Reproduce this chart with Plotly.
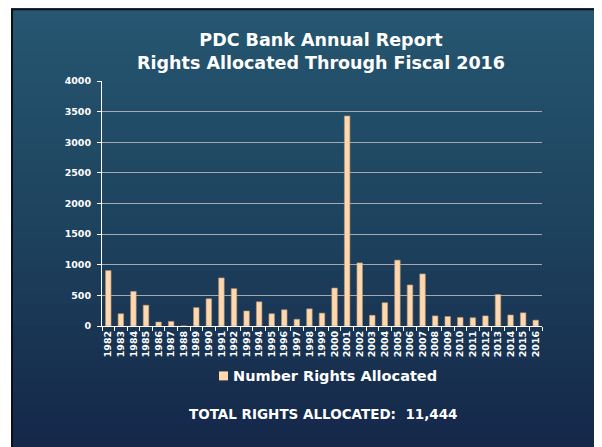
import plotly.graph_objects as go

years = [str(y) for y in range(1982, 2017)]
rights = [905, 200, 565, 340, 65, 75, 0, 300, 445, 785, 610, 245, 395, 200, 265,
          110, 280, 210, 620, 3430, 1030, 175, 380, 1075, 670, 850, 165, 155, 140,
          135, 165, 515, 180, 215, 95]
y_ticks = [0, 500, 1000, 1500, 2000, 2500, 3000, 3500, 4000]
title_lines = ["PDC Bank Annual Report", "Rights Allocated Through Fiscal 2016"]
series_name = "Number Rights Allocated"
total_text = "TOTAL RIGHTS ALLOCATED:  11,444"

# page offset (browser body margin)
OFF = 8
W, H = 602 - OFF, 447 - OFF
# plot area in page pixels
PX0, PX1, PY0, PY1 = 102, 542, 81, 326.5
L = PX0 - OFF
R = W - (PX1 - OFF)
T = PY0 - OFF
B = H - (PY1 - OFF)
PW, PH = W - L - R, H - T - B


def px(x):
    return (x - OFF - L) / PW


def py(y):
    return (H - B - (y - OFF)) / PH


FONT = "DejaVu Sans"
BAR = "#FFD8AE"

fig = go.Figure()
fig.add_trace(go.Bar(
    x=years, y=rights, name=series_name, showlegend=False,
    marker=dict(color=BAR, line=dict(color="#b89270", width=0.6)),
))

shapes = []
top_c = (0x26, 0x56, 0x72)
mid_c = (0x1e, 0x43, 0x5e)
bot_c = (0x15, 0x28, 0x4a)
n = 40
y0s, y1s = 8, 447
for i in range(n):
    t = i / (n - 1)
    if t < 0.5:
        a, b_, tt = top_c, mid_c, t / 0.5
    else:
        a, b_, tt = mid_c, bot_c, (t - 0.5) / 0.5
    c = tuple(int(a[k] + (b_[k] - a[k]) * tt) for k in range(3))
    ya = y0s + (y1s - y0s) * i / n
    yb = y0s + (y1s - y0s) * (i + 1) / n + 1
    shapes.append(dict(type="rect", xref="paper", yref="paper", layer="below",
                       x0=px(11), x1=px(603), y0=py(ya), y1=py(yb),
                       fillcolor="rgb(%d,%d,%d)" % c, line=dict(width=0)))
shapes.append(dict(type="rect", xref="paper", yref="paper", layer="below",
                   x0=px(12), x1=px(600), y0=py(9), y1=py(449),
                   fillcolor="rgba(0,0,0,0)", line=dict(color="#0a0f18", width=2)))
# legend swatch
shapes.append(dict(type="rect", xref="paper", yref="paper", layer="above",
                   x0=px(219), x1=px(228), y0=py(381), y1=py(372),
                   fillcolor=BAR, line=dict(width=0)))

fig.update_layout(
    width=W, height=H,
    margin=dict(l=L, r=R, t=T, b=B),
    paper_bgcolor="white",
    plot_bgcolor="#010e27",
    shapes=shapes,
    bargap=0.56,
    showlegend=False,
    title=dict(text="<br>".join(title_lines), x=(321 - OFF) / W, xanchor="center",
               y=1 - (46 - OFF) / H, yanchor="middle",
               font=dict(family=FONT, size=17.5, color="white", weight="bold")),
    xaxis=dict(type="category", tickangle=-90, showgrid=False,
               showline=True, linecolor="white", linewidth=1,
               ticks="outside", tickson="boundaries", ticklen=4, tickcolor="white",
               tickfont=dict(family=FONT, size=9.5, color="white", weight="bold")),
    yaxis=dict(range=[0, 4000], tickvals=y_ticks, showgrid=True,
               gridcolor="#a7a9b0", gridwidth=1, zeroline=False,
               showline=True, linecolor="white", linewidth=1,
               ticks="outside", ticklen=4, tickcolor="white", ticklabelstandoff=4,
               tickfont=dict(family=FONT, size=9.5, color="white", weight="bold")),
    annotations=[
        dict(text=series_name, xref="paper", yref="paper",
             x=px(231), y=py(376.5), showarrow=False,
             xanchor="left", yanchor="middle",
             font=dict(family=FONT, size=14.5, color="white", weight="bold")),
        dict(text=total_text, xref="paper", yref="paper",
             x=px(323), y=py(415), showarrow=False,
             xanchor="center", yanchor="middle",
             font=dict(family=FONT, size=13.5, color="white", weight="bold")),
    ],
)

fig.write_html("out.html")
